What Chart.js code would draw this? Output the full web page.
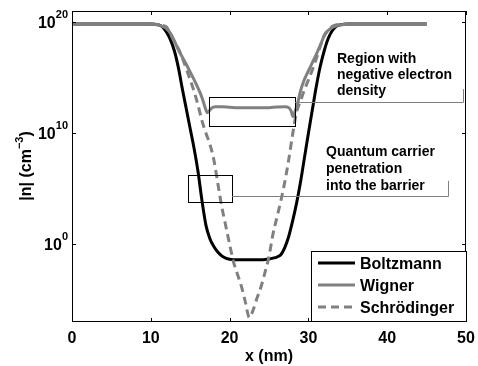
<!DOCTYPE html>
<html>
<head>
<meta charset="utf-8">
<script src="https://cdn.jsdelivr.net/npm/chart.js@4/dist/chart.umd.min.js"></script>
<style>
  html, body { margin: 0; padding: 0; background: #fff; }
  #wrap { width: 478px; height: 366px; }
</style>
</head>
<body>
<div id="wrap"><canvas id="nChart" width="478" height="366"></canvas></div>
<script>
// tick labels
const xTicks = [0, 10, 20, 30, 40, 50];
const yTickExp = [0, 10, 20];

// series, values are log10 of |n| in cm^-3
const boltzmannX = [0, 10, 10.5, 11, 11.5, 12, 12.5, 13, 13.5, 14, 14.5, 15, 15.5, 16, 16.5, 17, 17.5, 18, 18.5, 19, 19.5, 20, 21, 22, 23, 24, 24.5, 25, 25.5, 26, 26.5, 27, 27.5, 28, 28.5, 29, 29.5, 30, 30.5, 31, 31.5, 32, 32.5, 33, 33.5, 34, 34.5, 35, 45];
const boltzmannLog = [19.82, 19.82, 19.8, 19.75, 19.55, 19.1, 18.4, 17.4, 15.9, 14.0, 12.2, 10.4, 8.6, 6.5, 3.9, 1.7, 0.5, -0.2, -0.7, -1.05, -1.25, -1.35, -1.4, -1.4, -1.4, -1.4, -1.38, -1.33, -1.25, -1.15, -0.95, -0.3, 0.7, 2.1, 3.7, 5.6, 7.8, 10.0, 12.1, 14.2, 16.0, 17.4, 18.5, 19.2, 19.6, 19.75, 19.8, 19.82, 19.82];

const wignerX = [0, 10, 10.5, 11, 11.5, 12, 12.5, 13, 13.5, 14, 14.5, 15, 15.5, 16, 16.5, 16.9, 17.15, 17.4, 17.7, 18.2, 19, 20, 21, 22, 23, 24, 25, 26, 27, 27.5, 27.8, 28.05, 28.3, 28.6, 29, 29.5, 30, 30.5, 31, 31.5, 32, 32.5, 33, 33.5, 34, 35, 45];
const wignerLog = [19.82, 19.82, 19.8, 19.75, 19.6, 19.4, 19.0, 18.3, 17.5, 16.85, 16.2, 15.5, 14.8, 14.05, 13.2, 12.3, 11.85, 12.0, 12.25, 12.38, 12.38, 12.33, 12.28, 12.28, 12.28, 12.28, 12.3, 12.35, 12.38, 12.3, 12.0, 11.5, 11.95, 12.6, 13.8, 14.85, 15.6, 16.35, 17.1, 17.9, 18.75, 19.25, 19.5, 19.65, 19.75, 19.8, 19.82];

const schrodingerX = [0, 10, 11, 11.5, 12, 12.5, 13, 13.5, 14, 14.5, 15, 15.5, 16, 16.5, 17, 17.5, 18, 18.5, 19, 19.5, 20, 20.5, 21, 21.5, 22, 22.5, 23, 23.5, 24, 24.5, 25, 25.5, 26, 26.5, 27, 27.5, 28, 28.5, 29, 29.5, 30, 30.5, 31, 31.5, 32, 32.5, 33, 33.5, 34, 35, 45];
const schrodingerLog = [19.82, 19.82, 19.78, 19.7, 19.55, 18.9, 18.2, 17.6, 16.8, 15.8, 14.8, 13.75, 12.5, 11.1, 10.0, 9.0, 7.6, 5.5, 3.4, 1.7, 0.0, -1.6, -2.7, -3.8, -5.2, -6.6, -5.9, -4.8, -3.8, -2.5, -1.1, 0.9, 2.4, 3.9, 5.6, 7.6, 9.9, 11.9, 12.9, 13.9, 14.8, 15.7, 16.7, 17.8, 18.8, 19.3, 19.6, 19.75, 19.8, 19.82, 19.82];

const seriesNames = ['Boltzmann', 'Wigner', 'Schrödinger'];

const GRAY = '#808080';
const FONT = '"Liberation Sans", Arial, Helvetica, sans-serif';

function toPoints(xs, logs) {
    return xs.map((x, i) => ({ x: x, y: Math.pow(10, logs[i]) }));
}

// frame, ticks, labels, annotations and legend drawn by hand (MATLAB look)
const decorPlugin = {
    id: 'decor',
    afterDraw(chart) {
        const ctx = chart.ctx;
        const a = chart.chartArea;
        const sx = chart.scales.x;
        const sy = chart.scales.y;
        const px = v => sx.getPixelForValue(v);
        const py = e => sy.getPixelForValue(Math.pow(10, e));

        ctx.save();
        // axes box
        ctx.strokeStyle = '#000';
        ctx.lineWidth = 1;
        ctx.strokeRect(a.left + 0.5, a.top + 0.5, a.right - a.left - 1, a.bottom - a.top - 1);

        // ticks
        ctx.beginPath();
        xTicks.forEach(t => {
            const x = Math.round(px(t)) + 0.5;
            ctx.moveTo(x, a.bottom); ctx.lineTo(x, a.bottom - 4);
            ctx.moveTo(x, a.top); ctx.lineTo(x, a.top + 4);
        });
        yTickExp.forEach(e => {
            const y = Math.round(py(e)) + 0.5;
            ctx.moveTo(a.left, y); ctx.lineTo(a.left + 4, y);
            ctx.moveTo(a.right, y); ctx.lineTo(a.right - 4, y);
        });
        ctx.stroke();

        // x tick labels
        ctx.fillStyle = '#000';
        ctx.font = 'bold 16px ' + FONT;
        ctx.textAlign = 'center';
        ctx.textBaseline = 'alphabetic';
        xTicks.forEach(t => ctx.fillText(String(t), px(t), 343));

        // y tick labels 10^e
        yTickExp.forEach(e => {
            const y = py(e);
            ctx.font = 'bold 11px ' + FONT;
            const sup = String(e);
            const supW = ctx.measureText(sup).width;
            ctx.textAlign = 'left';
            ctx.fillText(sup, 68 - supW, y - 4);
            ctx.font = 'bold 16px ' + FONT;
            ctx.textAlign = 'right';
            ctx.fillText('10', 68 - supW, y + 6);
        });

        // x title
        ctx.font = 'bold 16px ' + FONT;
        ctx.textAlign = 'center';
        ctx.fillText('x (nm)', (a.left + a.right) / 2, 361);

        // y title |n| (cm^-3)
        ctx.save();
        ctx.translate(31, 166);
        ctx.rotate(-Math.PI / 2);
        ctx.textAlign = 'left';
        ctx.font = 'bold 16px ' + FONT;
        const p1 = '|n| (cm', p3 = ')';
        ctx.font = 'bold 11px ' + FONT;
        const p2 = '\u22123';
        const w2 = ctx.measureText(p2).width;
        ctx.font = 'bold 16px ' + FONT;
        const w1 = ctx.measureText(p1).width;
        const w3 = ctx.measureText(p3).width;
        let x0 = -(w1 + w2 + w3) / 2;
        ctx.fillText(p1, x0, 0);
        ctx.font = 'bold 11px ' + FONT;
        ctx.fillText(p2, x0 + w1, -8);
        ctx.font = 'bold 16px ' + FONT;
        ctx.fillText(p3, x0 + w1 + w2, 0);
        ctx.restore();

        // annotation 1: negative density
        ctx.lineWidth = 1;
        ctx.strokeStyle = '#000';
        ctx.strokeRect(Math.round(px(17.4)) + 0.5, Math.round(py(13.25)) + 0.5,
            Math.round(px(28.3) - px(17.4)), Math.round(py(10.64) - py(13.25)));
        ctx.strokeStyle = GRAY;
        ctx.beginPath();
        ctx.moveTo(px(28.3), Math.round(py(12.8)) + 0.5);
        ctx.lineTo(Math.round(px(49.6)) + 0.5, Math.round(py(12.8)) + 0.5);
        ctx.lineTo(Math.round(px(49.6)) + 0.5, py(13.97));
        ctx.stroke();

        // annotation 2: penetration
        ctx.strokeStyle = '#000';
        ctx.strokeRect(Math.round(px(14.7)) + 0.5, Math.round(py(6.23)) + 0.5,
            Math.round(px(20.3) - px(14.7)), Math.round(py(3.79) - py(6.23)));
        ctx.strokeStyle = GRAY;
        ctx.beginPath();
        ctx.moveTo(px(20.3), Math.round(py(4.33)) + 0.5);
        ctx.lineTo(Math.round(px(47.7)) + 0.5, Math.round(py(4.33)) + 0.5);
        ctx.lineTo(Math.round(px(47.7)) + 0.5, py(5.71));
        ctx.stroke();

        ctx.fillStyle = '#000';
        ctx.font = 'bold 14px ' + FONT;
        ctx.textAlign = 'left';
        ['Region with', 'negative electron', 'density'].forEach((s, i) => ctx.fillText(s, 337, 63 + i * 16));
        ['Quantum carrier', 'penetration', 'into the barrier'].forEach((s, i) => ctx.fillText(s, 326, 156 + i * 17));

        // legend
        const lx = 311, ly = 251, lw = 155, lh = 70;
        ctx.fillStyle = '#fff';
        ctx.fillRect(lx, ly, lw, lh);
        ctx.strokeStyle = '#000';
        ctx.lineWidth = 1;
        ctx.strokeRect(lx + 0.5, ly + 0.5, lw, lh);
        const styles = [
            { color: '#000', dash: [] },
            { color: GRAY, dash: [] },
            { color: GRAY, dash: [8, 5] }
        ];
        seriesNames.forEach((name, i) => {
            const y = 263 + i * 22;
            ctx.strokeStyle = styles[i].color;
            ctx.lineWidth = 3;
            ctx.setLineDash(styles[i].dash);
            ctx.beginPath();
            ctx.moveTo(318, y); ctx.lineTo(355, y);
            ctx.stroke();
            ctx.setLineDash([]);
            ctx.fillStyle = '#000';
            ctx.font = 'bold 16px ' + FONT;
            ctx.fillText(name, 360, y + 6);
        });
        ctx.restore();
    }
};

const ctx = document.getElementById('nChart').getContext('2d');

new Chart(ctx, {
    type: 'line',
    data: {
        datasets: [{
            label: seriesNames[0],
            data: toPoints(boltzmannX, boltzmannLog),
            borderColor: '#000',
            borderWidth: 3,
            order: 3
        }, {
            label: seriesNames[1],
            data: toPoints(wignerX, wignerLog),
            borderColor: GRAY,
            borderWidth: 3,
            order: 2
        }, {
            label: seriesNames[2],
            data: toPoints(schrodingerX, schrodingerLog),
            borderColor: GRAY,
            borderWidth: 3,
            borderDash: [8, 5],
            order: 1
        }]
    },
    options: {
        responsive: false,
        animation: false,
        devicePixelRatio: 1,
        layout: { padding: { left: 72, top: 11, right: 12, bottom: 44 } },
        elements: {
            point: { radius: 0 },
            line: { cubicInterpolationMode: 'monotone', fill: false }
        },
        scales: {
            x: { type: 'linear', min: 0, max: 50, display: false },
            y: { type: 'logarithmic', min: 1e-7, max: 1e21, display: false }
        },
        plugins: {
            legend: { display: false },
            tooltip: { enabled: false }
        }
    },
    plugins: [decorPlugin]
});
</script>
</body>
</html>
